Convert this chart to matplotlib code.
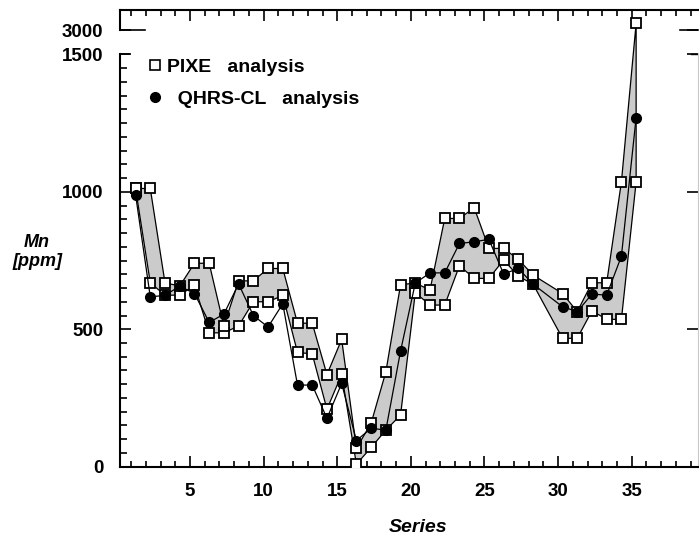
import numpy as np
import matplotlib.pyplot as plt
from matplotlib.lines import Line2D
from matplotlib.ticker import FixedLocator, NullFormatter

plt.rcParams['font.family'] = ['Liberation Sans', 'DejaVu Sans']
plt.rcParams['font.weight'] = 'bold'

# series 29 has no measurement
series = np.array([1, 2, 3, 4, 5, 6, 7, 8, 9, 10, 11, 12, 13, 14, 15, 16, 17, 18,
                   19, 20, 21, 22, 23, 24, 25, 26, 27, 28, 30, 31, 32, 33, 34, 35])
pixe_hi = np.array([1012, 1012, 669, 657, 740, 740, 512, 676, 676, 721, 721, 522, 522,
                    335, 463, 67, 158, 345, 662, 668, 643, 903, 903, 942, 794, 794,
                    754, 697, 630, 564, 669, 669, 1036, 3025])
pixe_lo = np.array([1012, 669, 624, 624, 660, 487, 487, 512, 600, 600, 623, 416, 410,
                    209, 336, 9, 70, 133, 188, 633, 588, 588, 731, 685, 685, 752,
                    693, 664, 467, 467, 567, 536, 536, 1036])
qhrs = np.array([990, 618, 623, 657, 630, 525, 555, 665, 550, 508, 593, 297, 297,
                 176, 303, 95, 140, 133, 421, 668, 705, 705, 812, 818, 827, 701,
                 721, 664, 582, 564, 628, 624, 766, 1270])

# points sit a bit right of the integer ticks in the original
x = series + 0.3


# broken y axis: 0-1500 normal, 1500-3000 squeezed into a small gap
def fwd(v):
    v = np.asarray(v, float)
    return np.where(v <= 1500, v,
                    np.where(v < 3000, 1500 + (v - 1500) * 88 / 1500, v - 1412))


def inv(u):
    u = np.asarray(u, float)
    return np.where(u <= 1500, u,
                    np.where(u < 1588, 1500 + (u - 1500) * 1500 / 88, u + 1412))


fig = plt.figure(figsize=(6.99, 5.40), dpi=100)
ax = fig.add_axes([0.1717, 0.1357, 0.8262, 0.8457])
ax.set_yscale('function', functions=(fwd, inv))
ax.set_xlim(0.245, 39.47)
ax.set_ylim(0, 3073)

band_x = np.r_[x, x[::-1]]
band_y = np.r_[pixe_hi, pixe_lo[::-1]]
ax.fill(band_x, band_y, facecolor='#cbcbcb', edgecolor='black', lw=0.9, zorder=1)
sq = dict(ls='none', marker='s', ms=7.5, mfc='white', mec='black', mew=1.3, zorder=3)
ax.plot(x, pixe_lo, **sq)
ax.plot(x, pixe_hi, **sq)
ax.plot(x, qhrs, color='black', lw=0.9, marker='o', ms=7, mfc='black', mec='black',
        zorder=4)

# ticks
ax.xaxis.set_major_locator(FixedLocator([5, 10, 15, 20, 25, 30, 35]))
ax.xaxis.set_minor_locator(FixedLocator(np.arange(1, 40)))
ax.yaxis.set_major_locator(FixedLocator([0, 500, 1000, 1500, 3000]))
ax.yaxis.set_minor_locator(FixedLocator(np.arange(0, 1501, 50)))
ax.yaxis.set_minor_formatter(NullFormatter())
ax.tick_params(axis='x', which='both', direction='in', top=True, bottom=True,
               labelsize=13.5, pad=12, width=1.2)
ax.tick_params(axis='x', which='major', length=8)
ax.tick_params(axis='x', which='minor', length=4)
ax.tick_params(axis='y', which='major', direction='in', length=8, width=1.2,
               labelsize=13.5, pad=12, right=True, left=True)
ax.tick_params(axis='y', which='minor', direction='in', length=5, width=1.2)

# spines with the break
for s in ['left', 'bottom', 'top']:
    ax.spines[s].set_linewidth(1.5)
ax.spines['left'].set_bounds(0, 1500)
ax.spines['right'].set_bounds(0, 1500)
ax.spines['right'].set_color('#c8c8c8')
ax.spines['right'].set_linewidth(0.8)
yt = ax.get_yaxis_transform()
ax.plot([0, 0], [3000, 3073], color='black', lw=1.5, transform=yt, clip_on=False)
ax.plot([0, 0.043], [3000, 3000], color='black', lw=1.2, transform=yt, clip_on=False)
ax.plot([0, 0.015], [1500, 1500], color='black', lw=1.2, transform=yt, clip_on=False)
ax.plot([0.97, 1.0], [3000, 3000], color='black', lw=1.2, transform=yt, clip_on=False)
ax.plot([0.988, 1.0], [1500, 1500], color='black', lw=1.0, transform=yt, clip_on=False)

# legend
handles = [Line2D([], [], ls='none', marker='s', ms=7, mfc='white', mec='black', mew=1.2),
           Line2D([], [], ls='none', marker='o', ms=7, mfc='black', mec='black')]
ax.legend(handles, ['PIXE   analysis', '  QHRS-CL   analysis'], loc='upper left',
          bbox_to_anchor=(0.05, 0.895), frameon=False, fontsize=14,
          handlelength=0.6, handletextpad=0.35, labelspacing=0.77,
          borderpad=0, borderaxespad=0)

fig.text(37 / 699, 1 - 252 / 540, 'Mn\n[ppm]', ha='center', va='center',
         fontsize=13, fontstyle='italic', fontweight='bold', linespacing=1.1)
fig.text(418 / 699, 1 - 527 / 540, 'Series', ha='center', va='center',
         fontsize=14, fontstyle='italic', fontweight='bold')

fig.savefig('out.png', dpi=100)
